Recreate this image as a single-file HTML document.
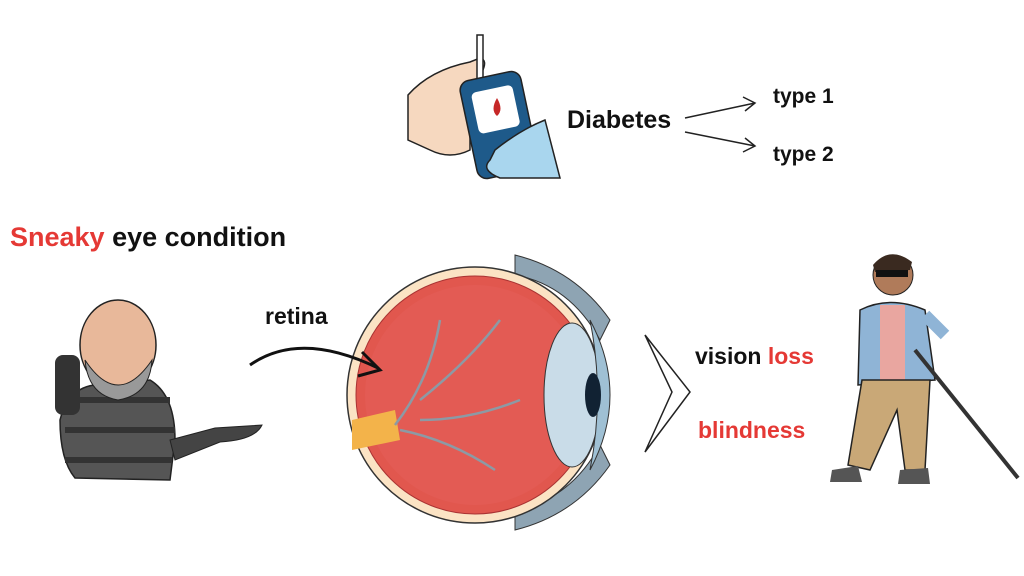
<!DOCTYPE html>
<html><head><meta charset="utf-8"><style>
html,body{margin:0;padding:0;background:#fff;}
svg{display:block}
text{font-family:"Liberation Sans",sans-serif;font-weight:bold;}
</style></head><body>
<svg width="1024" height="576" viewBox="0 0 1024 576" xmlns="http://www.w3.org/2000/svg">
<rect width="1024" height="576" fill="#fff"/>
<!-- hand with glucometer -->
<path d="M408 95 Q430 70 470 62 L480 58 Q488 60 482 72 L470 90 L470 150 Q450 160 430 150 L408 140 Z" fill="#f6d8bf" stroke="#222" stroke-width="1.5"/>
<rect x="477" y="35" width="6" height="45" fill="#fff" stroke="#222" stroke-width="1.5"/>
<rect x="468" y="75" width="62" height="100" rx="10" fill="#1e5a8a" stroke="#222" stroke-width="1.5" transform="rotate(-12 499 125)"/>
<rect x="478" y="88" width="42" height="42" rx="5" fill="#fff" transform="rotate(-12 499 125)"/>
<path d="M497 98 Q490 110 497 116 Q504 110 497 98Z" fill="#c62828"/>
<path d="M495 150 Q520 130 545 120 L560 178 L500 178 Q480 170 490 160Z" fill="#a9d6ee" stroke="#222" stroke-width="1.5"/>
<text x="567" y="128" font-size="25" fill="#111">Diabetes</text>
<path d="M685 118 L755 103 M743 97 L755 103 L745 111" fill="none" stroke="#222" stroke-width="1.5"/>
<path d="M685 132 L755 146 M745 138 L755 146 L743 152" fill="none" stroke="#222" stroke-width="1.5"/>
<text x="773" y="103" font-size="21" fill="#111">type 1</text>
<text x="773" y="161" font-size="21" fill="#111">type 2</text>
<text x="10" y="246" font-size="27" fill="#e53935">Sneaky <tspan fill="#111">eye condition</tspan></text>
<text x="265" y="324" font-size="23" fill="#111">retina</text>
<!-- eye -->
<path d="M515 255 Q575 270 610 320 L600 340 Q570 285 515 275Z" fill="#8ea4b3" stroke="#333"/>
<path d="M515 530 Q575 515 610 465 L600 445 Q570 500 515 510Z" fill="#8ea4b3" stroke="#333"/>
<circle cx="475" cy="395" r="128" fill="#fbe3c4" stroke="#333" stroke-width="1.5"/>
<circle cx="475" cy="395" r="119" fill="#e1574e" stroke="#a33"/>
<circle cx="475" cy="395" r="110" fill="#e35b54"/>
<path d="M352 420 L395 410 L400 440 L352 450Z" fill="#f3b34a"/>
<path d="M395 425 Q430 380 440 320 M420 400 Q470 360 500 320 M400 430 Q450 440 495 470 M420 420 Q470 420 520 400" fill="none" stroke="#8c9aa5" stroke-width="2.5"/>
<ellipse cx="572" cy="395" rx="28" ry="72" fill="#c9dce8" stroke="#333"/>
<path d="M590 320 Q630 395 590 470 Q605 395 590 320Z" fill="#9fc0d4" stroke="#333"/>
<ellipse cx="593" cy="395" rx="8" ry="22" fill="#123"/>
<path d="M250 365 Q300 330 378 368" fill="none" stroke="#111" stroke-width="3"/>
<path d="M362 352 L380 370 L358 376" fill="none" stroke="#111" stroke-width="3"/>
<path d="M645 335 L690 392 L645 452 L672 392Z" fill="#fff" stroke="#222" stroke-width="1.5"/>
<text x="695" y="364" font-size="23" fill="#111">vision <tspan fill="#e53935">loss</tspan></text>
<text x="698" y="438" font-size="23" fill="#e53935">blindness</text>
<!-- sneaky man -->
<path d="M60 420 Q70 380 110 385 L150 380 Q175 395 175 440 L170 480 L75 478 Q60 460 60 420Z" fill="#555" stroke="#222" stroke-width="1.5"/>
<path d="M70 400 L170 400 M65 430 L175 430 M65 460 L172 460" stroke="#333" stroke-width="6"/>
<ellipse cx="118" cy="345" rx="38" ry="45" fill="#e8b89a" stroke="#222" stroke-width="1.5"/>
<path d="M85 360 Q118 410 152 360 Q150 395 118 400 Q88 395 85 360Z" fill="#999" stroke="#222"/>
<rect x="55" y="355" width="25" height="60" rx="8" fill="#333"/>
<path d="M170 440 L215 428 L262 425 Q255 440 220 442 L175 460Z" fill="#444" stroke="#222"/>
<!-- blind man -->
<circle cx="893" cy="275" r="20" fill="#b07b5a" stroke="#222"/>
<path d="M873 265 Q890 245 912 262 L910 270 L875 272Z" fill="#3a2a20"/>
<rect x="876" y="270" width="32" height="7" fill="#111"/>
<path d="M860 310 Q890 295 925 310 L935 380 L858 385Z" fill="#8fb4d6" stroke="#222" stroke-width="1.5"/>
<path d="M880 305 L905 305 L905 380 L880 380Z" fill="#e9a6a0"/>
<path d="M925 315 L945 335" stroke="#8fb4d6" stroke-width="12"/>
<path d="M862 380 L930 380 L925 470 L905 470 L897 410 L870 470 L848 465Z" fill="#c9a877" stroke="#222" stroke-width="1.5"/>
<path d="M832 470 L858 466 L862 482 L830 482Z M900 470 L928 468 L930 484 L898 484Z" fill="#555"/>
<path d="M915 350 L1018 478" stroke="#333" stroke-width="4"/>
</svg>
</body></html>
